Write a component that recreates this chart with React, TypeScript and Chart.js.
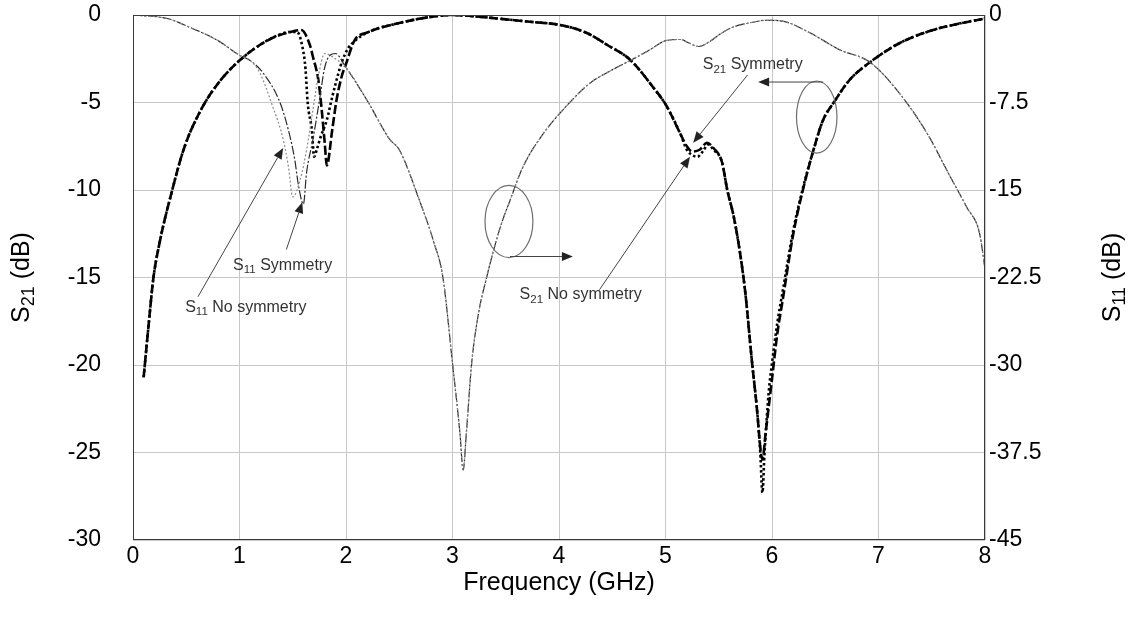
import React, { useEffect, useRef } from "react";
import { Chart, registerables } from "chart.js";

Chart.register(...registerables);

// ---------- data ----------
const xTickValues = [0, 1, 2, 3, 4, 5, 6, 7, 8];
const s21TickValues = [0, -5, -10, -15, -20, -25, -30];
const s11TickValues = [0, -7.5, -15, -22.5, -30, -37.5, -45];

// S21 with symmetry (left axis, dB)
const s21SymFreq = [0.1, 0.15, 0.19, 0.25, 0.36, 0.48, 0.64, 0.8, 1.0, 1.27, 1.48, 1.58, 1.66, 1.69, 1.74, 1.77, 1.8, 1.82, 1.87, 1.91, 1.96, 2.0, 2.08, 2.2, 2.5, 2.75, 3.0, 3.25, 3.5, 3.75, 4.01, 4.25, 4.45, 4.67, 4.88, 5.01, 5.14, 5.2, 5.25, 5.32, 5.39, 5.45, 5.53, 5.58, 5.64, 5.7, 5.75, 5.81, 5.86, 5.89, 5.91, 5.94, 6.0, 6.05, 6.1, 6.2, 6.29, 6.39, 6.48, 6.58, 6.73, 6.92, 7.2, 7.51, 7.75, 8.0];
const s21SymDb = [-20.7, -17.5, -15.1, -13.0, -10.2, -7.6, -5.4, -3.9, -2.6, -1.43, -0.97, -0.86, -1.7, -2.4, -3.7, -5.3, -7.3, -8.6, -6.6, -4.9, -3.5, -2.8, -1.45, -1.0, -0.46, -0.15, 0, -0.1, -0.25, -0.4, -0.57, -1.0, -1.7, -2.57, -4.1, -5.2, -6.8, -7.5, -7.8, -7.7, -7.3, -7.6, -8.4, -10.0, -11.5, -13.6, -15.9, -19.7, -22.6, -24.7, -25.4, -23.9, -20.8, -18.2, -16.3, -12.5, -10.0, -7.7, -6.0, -5.0, -3.7, -2.7, -1.6, -0.86, -0.5, -0.2];

// S21 without symmetry (left axis, dB)
const s21NoSymFreq = [0.1, 0.15, 0.19, 0.25, 0.36, 0.48, 0.64, 0.8, 1.0, 1.27, 1.48, 1.54, 1.59, 1.62, 1.64, 1.68, 1.7, 1.73, 1.76, 1.82, 1.87, 1.93, 1.96, 2.02, 2.08, 2.2, 2.5, 2.75, 3.0, 3.25, 3.5, 3.75, 4.01, 4.25, 4.45, 4.67, 4.88, 5.01, 5.14, 5.2, 5.25, 5.3, 5.35, 5.4, 5.45, 5.53, 5.58, 5.64, 5.7, 5.75, 5.81, 5.86, 5.89, 5.91, 5.93, 5.97, 6.0, 6.05, 6.1, 6.2, 6.29, 6.39, 6.48, 6.58, 6.73, 6.92, 7.2, 7.51, 7.75, 8.0];
const s21NoSymDb = [-20.7, -17.5, -15.1, -13.0, -10.2, -7.6, -5.4, -3.9, -2.6, -1.43, -0.97, -0.97, -1.8, -3.1, -5.0, -6.6, -8.1, -7.6, -7.0, -6.0, -4.7, -3.3, -2.7, -1.9, -1.5, -1.0, -0.46, -0.15, 0, -0.1, -0.25, -0.4, -0.57, -1.0, -1.7, -2.57, -4.1, -5.2, -6.8, -7.7, -8.0, -8.1, -7.8, -7.4, -7.7, -8.4, -10.0, -11.5, -13.6, -15.9, -19.7, -22.6, -25.0, -27.3, -25.0, -21.5, -19.9, -17.6, -15.8, -12.3, -9.9, -7.7, -6.0, -5.0, -3.7, -2.7, -1.6, -0.86, -0.5, -0.2];

// S11 with symmetry (right axis, dB)
const s11SymFreq = [0.0, 0.32, 0.53, 0.79, 1.0, 1.1, 1.22, 1.38, 1.46, 1.52, 1.55, 1.6, 1.63, 1.69, 1.75, 1.8, 1.85, 1.9, 2.0, 2.2, 2.41, 2.5, 2.69, 2.82, 2.91, 3.0, 3.07, 3.1, 3.13, 3.18, 3.24, 3.32, 3.45, 3.54, 3.66, 3.85, 4.07, 4.29, 4.51, 4.67, 4.85, 5.01, 5.14, 5.22, 5.31, 5.42, 5.51, 5.63, 5.79, 5.95, 6.1, 6.36, 6.64, 6.92, 7.2, 7.46, 7.67, 7.83, 7.95, 8.0];
const s11SymDb = [0, -0.3, -1.05, -2.15, -3.45, -3.9, -4.95, -7.5, -9.9, -12.45, -14.4, -16.2, -13.5, -10.65, -7.35, -4.5, -3.45, -3.3, -4.5, -7.35, -10.65, -11.55, -15.9, -19.35, -22.5, -29.85, -35.85, -39.0, -35.85, -29.85, -25.8, -22.5, -18.15, -15.9, -13.05, -10.2, -7.8, -5.85, -4.65, -3.9, -3.0, -2.18, -2.1, -2.4, -2.7, -2.25, -1.65, -1.05, -0.68, -0.45, -0.53, -1.55, -3.0, -4.05, -6.75, -10.2, -13.8, -16.5, -18.75, -21.75];

// S11 without symmetry (right axis, dB)
const s11NoSymFreq = [0.0, 0.32, 0.53, 0.79, 1.0, 1.1, 1.19, 1.31, 1.41, 1.46, 1.5, 1.57, 1.63, 1.69, 1.74, 1.8, 1.9, 2.0, 2.2, 2.41, 2.5, 2.69, 2.82, 2.91, 3.0, 3.07, 3.1, 3.13, 3.18, 3.24, 3.32, 3.45, 3.54, 3.66, 3.85, 4.07, 4.29, 4.51, 4.67, 4.85, 5.01, 5.14, 5.22, 5.31, 5.42, 5.51, 5.63, 5.79, 5.95, 6.1, 6.36, 6.64, 6.92, 7.2, 7.46, 7.67, 7.83, 7.95, 8.0];
const s11NoSymDb = [0, -0.3, -1.05, -2.15, -3.45, -3.9, -4.95, -7.8, -10.65, -13.05, -15.6, -14.1, -11.55, -8.1, -5.25, -3.3, -3.75, -4.5, -7.35, -10.65, -11.55, -15.9, -19.35, -22.5, -29.85, -35.85, -39.0, -35.85, -29.85, -25.8, -22.5, -18.15, -15.9, -13.05, -10.2, -7.8, -5.85, -4.65, -3.9, -3.0, -2.18, -2.1, -2.4, -2.7, -2.25, -1.65, -1.05, -0.68, -0.45, -0.53, -1.55, -3.0, -4.05, -6.75, -10.2, -13.8, -16.5, -18.75, -21.75];

const FONT = "'Liberation Sans', Arial, sans-serif";

const toPoints = (xs: number[], ys: number[]) => xs.map((x, i) => ({ x, y: ys[i] }));

// annotations in data coordinates (GHz, S21 dB)
type Part = [string, boolean];
const labels: { x: number; y: number; parts: Part[] }[] = [
  { x: 0.94, y: -14.3, parts: [["S", false], ["11", true], [" Symmetry", false]] },
  { x: 0.49, y: -16.7, parts: [["S", false], ["11", true], [" No symmetry", false]] },
  { x: 3.63, y: -16.0, parts: [["S", false], ["21", true], [" No symmetry", false]] },
  { x: 5.35, y: -2.86, parts: [["S", false], ["21", true], [" Symmetry", false]] },
];
const arrows = [
  [1.44, -13.4, 1.59, -10.7],
  [0.61, -16.1, 1.41, -7.6],
  [4.38, -15.7, 5.23, -8.1],
  [5.77, -3.43, 5.26, -7.3],
  [3.54, -13.8, 4.13, -13.8],
  [6.48, -3.83, 5.87, -3.83],
];
const ellipses = [
  [3.53, -11.8, 0.225, 2.06],
  [6.42, -5.83, 0.19, 2.06],
];

const drawParts = (ctx: CanvasRenderingContext2D, x: number, y: number, parts: Part[], size: number) => {
  let cx = x;
  for (const [t, sub] of parts) {
    const s = sub ? size * 0.72 : size;
    ctx.font = `${s}px ${FONT}`;
    ctx.fillText(t, cx, sub ? y + size * 0.28 : y);
    cx += ctx.measureText(t).width;
  }
};

const TITLE_SIZE = 25;

const overlayPlugin = {
  id: "overlay",
  afterDatasetsDraw(chart: any) {
    const { ctx, chartArea, scales } = chart;
    const X = (v: number) => scales.x.getPixelForValue(v);
    const Y = (v: number) => scales.y.getPixelForValue(v);
    ctx.save();
    // plot border
    ctx.strokeStyle = "#3a3a3a";
    ctx.lineWidth = 1;
    ctx.strokeRect(chartArea.left + 0.5, chartArea.top + 0.5, chartArea.right - chartArea.left - 1, chartArea.bottom - chartArea.top - 1);

    // ellipses
    ctx.strokeStyle = "#6e6e6e";
    ctx.lineWidth = 1.2;
    for (const [ex, ey, rx, ry] of ellipses) {
      const cx = X(ex), cy = Y(ey);
      const rpx = Math.abs(X(ex + rx) - cx), rpy = Math.abs(Y(ey + ry) - cy);
      ctx.beginPath();
      ctx.ellipse(cx, cy, rpx, rpy, 0, 0, Math.PI * 2);
      ctx.stroke();
    }
    // arrows
    ctx.strokeStyle = "#444";
    ctx.fillStyle = "#222";
    ctx.lineWidth = 1;
    for (const [x1, y1, x2, y2] of arrows) {
      const ax = X(x1), ay = Y(y1), bx = X(x2), by = Y(y2);
      const ang = Math.atan2(by - ay, bx - ax);
      const L = 11, W = 4.5;
      const hx = bx - L * Math.cos(ang), hy = by - L * Math.sin(ang);
      ctx.beginPath();
      ctx.moveTo(ax, ay);
      ctx.lineTo(hx, hy);
      ctx.stroke();
      ctx.beginPath();
      ctx.moveTo(bx, by);
      ctx.lineTo(hx + W * Math.sin(ang), hy - W * Math.cos(ang));
      ctx.lineTo(hx - W * Math.sin(ang), hy + W * Math.cos(ang));
      ctx.closePath();
      ctx.fill();
    }
    // labels
    ctx.fillStyle = "#333";
    ctx.textBaseline = "middle";
    ctx.textAlign = "left";
    for (const l of labels) drawParts(ctx, X(l.x), Y(l.y), l.parts, 16);

    // axis titles
    ctx.fillStyle = "#000";
    const T = TITLE_SIZE;
    ctx.textAlign = "left";
    ctx.font = `${T}px ${FONT}`;
    const xt = "Frequency (GHz)";
    const w = ctx.measureText(xt).width;
    ctx.fillText(xt, (chartArea.left + chartArea.right) / 2 - w / 2, 583);

    const vTitle = (cx: number, sub: string) => {
      const parts: Part[] = [["S", false], [sub, true], [" (dB)", false]];
      let tw = 0;
      for (const [t, s] of parts) {
        ctx.font = `${s ? T * 0.72 : T}px ${FONT}`;
        tw += ctx.measureText(t).width;
      }
      ctx.save();
      ctx.translate(cx, (chartArea.top + chartArea.bottom) / 2);
      ctx.rotate(-Math.PI / 2);
      drawParts(ctx, -tw / 2, 0, parts, T);
      ctx.restore();
    };
    vTitle(22, "21");
    vTitle(1113, "11");
    ctx.restore();
  },
};

export default function App() {
  const canvasRef = useRef<HTMLCanvasElement | null>(null);
  useEffect(() => {
    document.body.style.margin = "0";
    const canvas = canvasRef.current;
    if (!canvas) return;
    const tickFont = { family: FONT, size: 23 };
    const chart = new Chart(canvas, {
      type: "line",
      data: {
        datasets: [
          {
            label: "S11 No symmetry",
            data: toPoints(s11NoSymFreq, s11NoSymDb),
            yAxisID: "y2",
            borderColor: "#8a8a8a",
            borderWidth: 1.2,
            borderDash: [2, 2],
            pointRadius: 0,
            cubicInterpolationMode: "monotone",
          },
          {
            label: "S11 Symmetry",
            data: toPoints(s11SymFreq, s11SymDb),
            yAxisID: "y2",
            borderColor: "#2a2a2a",
            borderWidth: 1.2,
            borderDash: [9, 2, 2, 2],
            pointRadius: 0,
            cubicInterpolationMode: "monotone",
          },
          {
            label: "S21 No symmetry",
            data: toPoints(s21NoSymFreq, s21NoSymDb),
            yAxisID: "y",
            borderColor: "#000",
            borderWidth: 2.6,
            borderDash: [2.5, 2.5],
            pointRadius: 0,
            cubicInterpolationMode: "monotone",
          },
          {
            label: "S21 Symmetry",
            data: toPoints(s21SymFreq, s21SymDb),
            yAxisID: "y",
            borderColor: "#000",
            borderWidth: 2.6,
            borderDash: [9, 3],
            pointRadius: 0,
            cubicInterpolationMode: "monotone",
          },
        ],
      },
      options: {
        animation: false,
        responsive: false,
        maintainAspectRatio: false,
        layout: { padding: { top: 15, left: 0, right: 0, bottom: 0 } },
        plugins: { legend: { display: false }, tooltip: { enabled: false } },
        scales: {
          x: {
            type: "linear",
            min: 0,
            max: 8,
            afterBuildTicks: (s: any) => { s.ticks = xTickValues.map((v) => ({ value: v })); },
            afterFit: (s: any) => { s.height = 94; s.paddingLeft = 0; s.paddingRight = 0; },
            grid: { color: "#c8c8c8", drawTicks: false },
            border: { display: false },
            ticks: { font: tickFont, color: "#000", padding: 3, maxRotation: 0 },
          },
          y: {
            type: "linear",
            position: "left",
            min: -30,
            max: 0,
            afterBuildTicks: (s: any) => { s.ticks = s21TickValues.map((v) => ({ value: v })); },
            afterFit: (s: any) => { s.width = 133; s.paddingTop = 0; s.paddingBottom = 0; },
            grid: { color: "#c8c8c8", drawTicks: false },
            border: { display: false },
            ticks: { font: tickFont, color: "#000", padding: 32 },
          },
          y2: {
            type: "linear",
            position: "right",
            min: -45,
            max: 0,
            afterBuildTicks: (s: any) => { s.ticks = s11TickValues.map((v) => ({ value: v })); },
            afterFit: (s: any) => { s.width = 147; s.paddingTop = 0; s.paddingBottom = 0; },
            grid: { display: false, drawTicks: false },
            border: { display: false },
            ticks: { font: tickFont, color: "#000", padding: 4, callback: (v: any) => String(v) },
          },
        },
      },
      plugins: [overlayPlugin],
    });
    return () => chart.destroy();
  }, []);
  return (
    <div style={{ width: 1132, height: 634, position: "relative" }}>
      <canvas ref={canvasRef} width={1132} height={634} style={{ display: "block", width: 1132, height: 634 }} />
    </div>
  );
}
